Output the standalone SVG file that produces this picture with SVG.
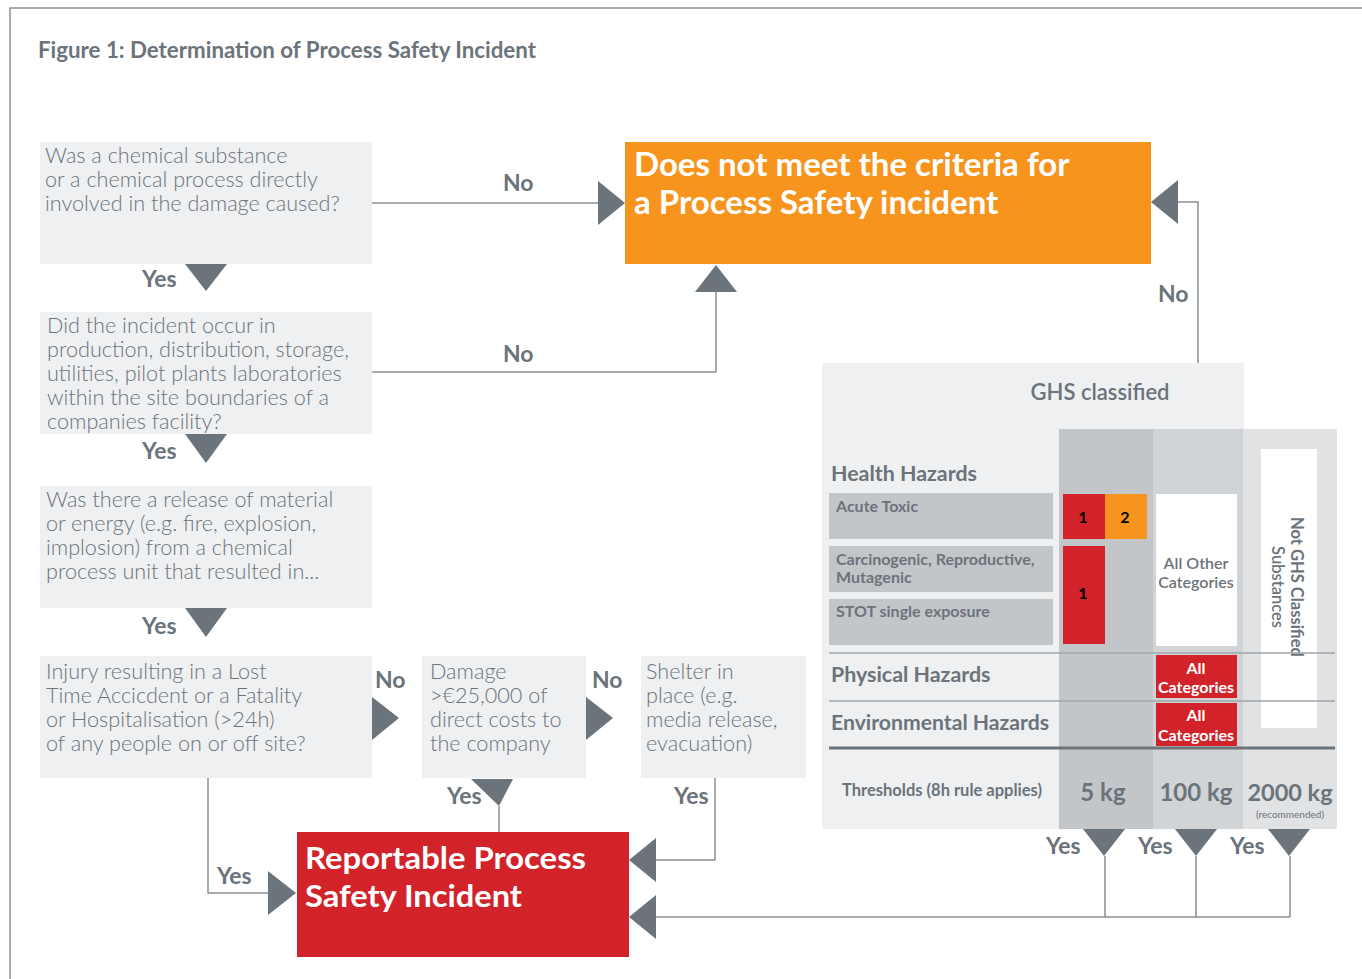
<svg xmlns="http://www.w3.org/2000/svg" width="1362" height="979" viewBox="0 0 1362 979">
<defs>
<style>
.t{font-family:Lato,"Open Sans","Liberation Sans",sans-serif;fill:#6b737b}
.q{font-size:21.6px;font-weight:300}
.lbl{font-size:23px;font-weight:700}
.big{font-family:Lato,"Open Sans","Liberation Sans",sans-serif;fill:#fff;font-size:33px;font-weight:700}
.big2{font-family:Lato,"Open Sans","Liberation Sans",sans-serif;fill:#fff;font-size:31px;font-weight:700}
.box{fill:#eff0f1}
.ln{stroke:#8a9096;stroke-width:1.5;fill:none}
.ar{fill:#6b737b}
.hz{font-size:21.4px;font-weight:700}
.sm{font-size:16px;font-weight:700}
.wt{font-family:Lato,"Open Sans","Liberation Sans",sans-serif;fill:#fff;font-size:16px;font-weight:700}
</style>
</defs>
<rect width="1362" height="979" fill="#fff"/>
<path class="ln" d="M10,979 V8 H1362"/>
<text class="t" x="38" y="58" textLength="498" lengthAdjust="spacingAndGlyphs" style="font-size:22px;font-weight:700">Figure 1: Determination of Process Safety Incident</text>

<g id="connectors">
<path class="ln" d="M372,203 H598"/>
<polygon class="ar" points="598,181 625,203 598,225"/>
<text class="t lbl" x="503" y="191">No</text>
<polygon class="ar" points="185,264 227,264 206,291"/>
<text class="t lbl" x="142" y="287">Yes</text>
<path class="ln" d="M372,372 H716 V292"/>
<polygon class="ar" points="695,292 737,292 716,265"/>
<text class="t lbl" x="503" y="362">No</text>
<polygon class="ar" points="185,434 227,434 206,463"/>
<text class="t lbl" x="142" y="459">Yes</text>
<polygon class="ar" points="185,608 227,608 206,637"/>
<text class="t lbl" x="142" y="634">Yes</text>
<polygon class="ar" points="372,697 399,718 372,740"/>
<text class="t lbl" x="375" y="688">No</text>
<polygon class="ar" points="586,697 613,718 586,740"/>
<text class="t lbl" x="592" y="688">No</text>
<path class="ln" d="M499,806 V832"/>
<polygon class="ar" points="471,779 513,779 499,806"/>
<text class="t lbl" x="447" y="804">Yes</text>
<path class="ln" d="M715,778 V860 H656"/>
<polygon class="ar" points="656,838 629,860 656,882"/>
<text class="t lbl" x="674" y="804">Yes</text>
<path class="ln" d="M208,778 V893 H268"/>
<polygon class="ar" points="268,871 296,893 268,915"/>
<text class="t lbl" x="217" y="884">Yes</text>
<path class="ln" d="M656,917 H1290 M1105,856 V917 M1196,856 V917 M1290,856 V917"/>
<polygon class="ar" points="656,895 629,917 656,939"/>
<polygon class="ar" points="1083,829 1125,829 1104,856"/>
<polygon class="ar" points="1175,829 1217,829 1196,856"/>
<polygon class="ar" points="1268,829 1310,829 1289,856"/>
<text class="t lbl" x="1046" y="854">Yes</text>
<text class="t lbl" x="1138" y="854">Yes</text>
<text class="t lbl" x="1230" y="854">Yes</text>
<path class="ln" d="M1198,363 V202 H1178"/>
<polygon class="ar" points="1178,180 1151,202 1178,224"/>
<text class="t lbl" x="1158" y="302">No</text>
</g>

<g id="q1">
<rect class="box" x="40" y="142" width="332" height="122"/>
<text class="t q" x="45" y="163">Was a chemical substance</text>
<text class="t q" x="45" y="187">or a chemical process directly</text>
<text class="t q" x="45" y="211">involved in the damage caused?</text>
</g>
<g id="q2">
<rect class="box" x="40" y="312" width="332" height="122"/>
<text class="t q" x="47" y="333">Did the incident occur in</text>
<text class="t q" x="47" y="357">production, distribution, storage,</text>
<text class="t q" x="47" y="381">utilities, pilot plants laboratories</text>
<text class="t q" x="47" y="405">within the site boundaries of a</text>
<text class="t q" x="47" y="429">companies facility?</text>
</g>
<g id="q3">
<rect class="box" x="40" y="486" width="332" height="122"/>
<text class="t q" x="46" y="507">Was there a release of material</text>
<text class="t q" x="46" y="531">or energy (e.g. fire, explosion,</text>
<text class="t q" x="46" y="555">implosion) from a chemical</text>
<text class="t q" x="46" y="579">process unit that resulted in...</text>
</g>
<g id="q4">
<rect class="box" x="40" y="656" width="332" height="122"/>
<text class="t q" x="46" y="679">Injury resulting in a Lost</text>
<text class="t q" x="46" y="703">Time Accicdent or a Fatality</text>
<text class="t q" x="46" y="727">or Hospitalisation (&gt;24h)</text>
<text class="t q" x="46" y="751">of any people on or off site?</text>
</g>
<g id="q5">
<rect class="box" x="422" y="656" width="164" height="122"/>
<text class="t q" x="430" y="679">Damage</text>
<text class="t q" x="430" y="703">&gt;€25,000 of</text>
<text class="t q" x="430" y="727">direct costs to</text>
<text class="t q" x="430" y="751">the company</text>
</g>
<g id="q6">
<rect class="box" x="641" y="656" width="165" height="122"/>
<text class="t q" x="646" y="679">Shelter in</text>
<text class="t q" x="646" y="703">place (e.g.</text>
<text class="t q" x="646" y="727">media release,</text>
<text class="t q" x="646" y="751">evacuation)</text>
</g>
<g id="notpsi">
<rect x="625" y="142" width="526" height="122" fill="#f7941d"/>
<text class="big" x="634" y="176">Does not meet the criteria for</text>
<text class="big" x="634" y="214">a Process Safety incident</text>
</g>
<g id="reportable">
<rect x="297" y="832" width="332" height="125" fill="#d2232a"/>
<text class="big2" x="305" y="869" textLength="281" lengthAdjust="spacingAndGlyphs">Reportable Process</text>
<text class="big2" x="305" y="907" textLength="217" lengthAdjust="spacingAndGlyphs">Safety Incident</text>
</g>

<g id="ghs">
<rect x="822" y="363" width="422" height="466" fill="#eff0f1"/>
<rect x="1059" y="429" width="94" height="400" fill="#c3c6c9"/>
<rect x="1153" y="429" width="90" height="400" fill="#d1d4d6"/>
<rect x="1243" y="429" width="94" height="400" fill="#e1e2e4"/>
<text class="t" x="1100" y="400" text-anchor="middle" style="font-size:22px;font-weight:600">GHS classified</text>
<text class="t hz" x="831" y="481">Health Hazards</text>
<rect x="829" y="493" width="224" height="46" fill="#c3c6c9"/>
<rect x="829" y="546" width="224" height="46" fill="#c3c6c9"/>
<rect x="829" y="599" width="224" height="46" fill="#c3c6c9"/>
<text class="t sm" x="836" y="512">Acute Toxic</text>
<text class="t sm" x="836" y="565">Carcinogenic, Reproductive,</text>
<text class="t sm" x="836" y="583">Mutagenic</text>
<text class="t sm" x="836" y="617">STOT single exposure</text>
<rect x="1063" y="494" width="42" height="45" fill="#d2232a"/>
<rect x="1105" y="494" width="42" height="45" fill="#f7941d"/>
<rect x="1063" y="546" width="42" height="98" fill="#d2232a"/>
<text x="1083" y="523" text-anchor="middle" style="font-family:Lato,sans-serif;font-size:16px;font-weight:700;fill:#000">1</text>
<text x="1125" y="523" text-anchor="middle" style="font-family:Lato,sans-serif;font-size:16px;font-weight:700;fill:#000">2</text>
<text x="1083" y="599" text-anchor="middle" style="font-family:Lato,sans-serif;font-size:16px;font-weight:700;fill:#000">1</text>
<rect x="1156" y="494" width="81" height="152" fill="#fff"/>
<text class="t" x="1196" y="569" text-anchor="middle" style="font-size:16px;font-weight:600">All Other</text>
<text class="t" x="1196" y="588" text-anchor="middle" style="font-size:16px;font-weight:600">Categories</text>
<rect x="1261" y="449" width="56" height="279" fill="#fff"/>
<g transform="translate(1289,587) rotate(90)">
<text class="t" x="0" y="-2" text-anchor="middle" style="font-size:16.5px;font-weight:700">Not GHS Classified</text>
<text class="t" x="0" y="17" text-anchor="middle" style="font-size:16.5px;font-weight:600">Substances</text>
</g>
<path d="M829,653 H1335 M829,701 H1335" stroke="#a0a5aa" stroke-width="1.5"/>
<path d="M829,748 H1335" stroke="#6b737b" stroke-width="3"/>
<text class="t hz" x="831" y="682">Physical Hazards</text>
<text class="t hz" x="831" y="730" textLength="218" lengthAdjust="spacingAndGlyphs">Environmental Hazards</text>
<rect x="1156" y="655" width="81" height="43" fill="#d2232a"/>
<rect x="1156" y="703" width="81" height="43" fill="#d2232a"/>
<text class="wt" x="1196" y="674" text-anchor="middle">All</text>
<text class="wt" x="1196" y="693" text-anchor="middle">Categories</text>
<text class="wt" x="1196" y="721" text-anchor="middle">All</text>
<text class="wt" x="1196" y="741" text-anchor="middle">Categories</text>
<text class="t" x="842" y="796" style="font-size:16.5px;font-weight:700">Thresholds (8h rule applies)</text>
<text class="t" x="1103" y="801" text-anchor="middle" style="font-size:24px;font-weight:700">5 kg</text>
<text class="t" x="1196" y="801" text-anchor="middle" style="font-size:24px;font-weight:700">100 kg</text>
<text class="t" x="1290" y="801" text-anchor="middle" style="font-size:23.5px;font-weight:700">2000 kg</text>
<text class="t" x="1290" y="818" text-anchor="middle" style="font-size:10px;font-weight:400">(recommended)</text>
</g>
</svg>
